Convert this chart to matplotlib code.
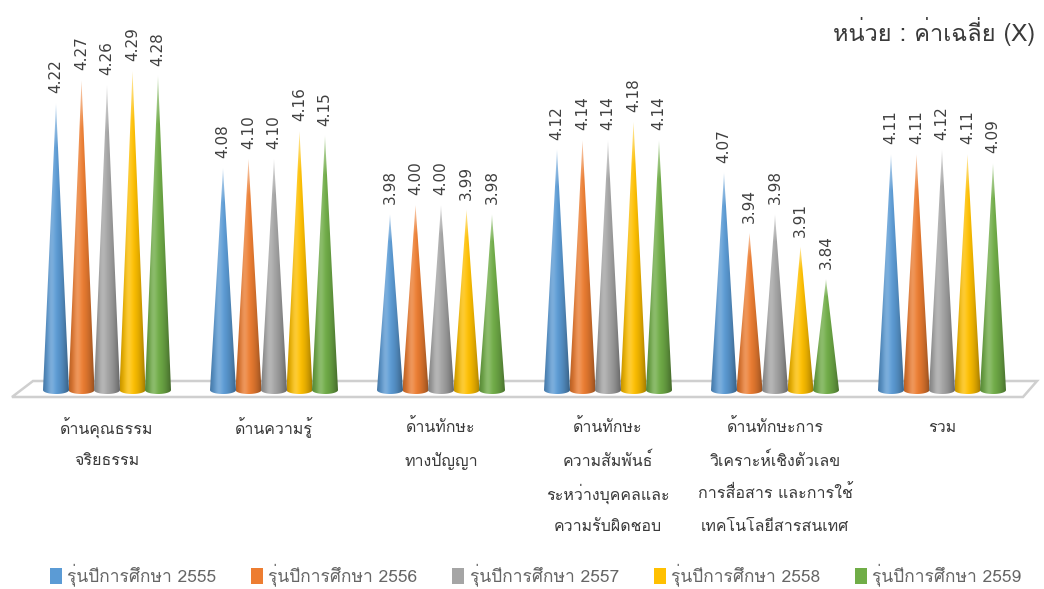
import numpy as np
import matplotlib
matplotlib.use("Agg")
import matplotlib.pyplot as plt
from matplotlib import font_manager
from matplotlib.ft2font import FT2Font
from matplotlib.patches import Polygon, Patch

categories = [
    "ด้านคุณธรรม\nจริยธรรม",
    "ด้านความรู้",
    "ด้านทักษะ\nทางปัญญา",
    "ด้านทักษะ\nความสัมพันธ์\nระหว่างบุคคลและ\nความรับผิดชอบ",
    "ด้านทักษะการ\nวิเคราะห์เชิงตัวเลข\nการสื่อสาร และการใช้\nเทคโนโลยีสารสนเทศ",
    "รวม",
]
series_names = ["รุ่นปีการศึกษา 2555", "รุ่นปีการศึกษา 2556", "รุ่นปีการศึกษา 2557",
                "รุ่นปีการศึกษา 2558", "รุ่นปีการศึกษา 2559"]
y2555 = [4.22, 4.08, 3.98, 4.12, 4.07, 4.11]
y2556 = [4.27, 4.10, 4.00, 4.14, 3.94, 4.11]
y2557 = [4.26, 4.10, 4.00, 4.14, 3.98, 4.12]
y2558 = [4.29, 4.16, 3.99, 4.18, 3.91, 4.11]
y2559 = [4.28, 4.15, 3.98, 4.14, 3.84, 4.09]
series = [y2555, y2556, y2557, y2558, y2559]
colors = ["#5B9BD5", "#ED7D31", "#A5A5A5", "#FFC000", "#70AD47"]
unit_label = "หน่วย : ค่าเฉลี่ย (X)"


def weight_num(w):
    if isinstance(w, (int, float)):
        return w
    return font_manager.weight_dict.get(w, 400)


def find_thai_font():
    # pick the lightest-normal installed font file that has Thai glyphs
    best = None
    for f in font_manager.fontManager.ttflist:
        try:
            ft = FT2Font(f.fname)
            if not (ft.get_char_index(0x0E01) and ft.get_char_index(0x0E49)):
                continue
        except Exception:
            continue
        if f.style != "normal":
            continue
        score = abs(weight_num(f.weight) - 380)
        if best is None or score < best[0]:
            best = (score, f.fname)
    return best[1] if best else None


thai_path = find_thai_font()
if thai_path:
    font_manager.fontManager.addfont(thai_path)
    tprop = font_manager.FontProperties(fname=thai_path)
else:
    tprop = font_manager.FontProperties(family="DejaVu Sans")

W, H = 1044, 589
fig = plt.figure(figsize=(W / 100, H / 100), dpi=100)
fig.patch.set_facecolor("white")

# axes covers pixel rows 0..400 from the top
ax = fig.add_axes([0, (H - 400) / H, 1, 400 / H])
ax.axis("off")

PX_UNIT = 462.0     # pixels per data unit
Y0 = 3.6            # baseline value
GX0, GDX = 107.0, 167.0   # group pixel positions


def px2x(px):
    return (px - GX0) / GDX


def py2y(py):
    return Y0 + (390 - py) / PX_UNIT


xlim = (px2x(0), px2x(W))
ylim = (py2y(400), py2y(0))

# floor slab
floor = Polygon([(px2x(12), py2y(397)), (px2x(1023), py2y(397)),
                 (px2x(1037), py2y(381)), (px2x(33), py2y(381))],
                closed=True, facecolor="white", edgecolor="#cfcfcf", lw=1.8, zorder=1)
ax.add_patch(floor)

hw = 13.0 / GDX          # cone half width
eh = 4.0 / PX_UNIT       # base ellipse half height
step = 25.5 / GDX


def cone_image(color, n=80, m=120):
    c = np.array(matplotlib.colors.to_rgb(color))
    u = np.linspace(-1, 1, n)
    lit = 1 - 0.30 * np.abs(u + 0.15) ** 1.8
    hi = 0.20 * np.exp(-((u + 0.35) / 0.3) ** 2)
    row = c[None, :] * lit[:, None] + (1 - c[None, :] * lit[:, None]) * hi[:, None]
    img = np.repeat(row[None, :, :], m, axis=0)
    t = np.linspace(0, 1, m)
    fade = np.clip((t - 0.85) / 0.15, 0, 1) * 0.6
    img = img * (1 - fade[:, None, None]) + fade[:, None, None]
    return np.clip(img, 0, 1)


for i in range(len(categories)):
    for j, vals in enumerate(series):
        v = vals[i]
        x = i + (j - 2) * step
        th = np.linspace(0, -np.pi, 40)
        pts = [(x, v)] + [(x + hw * np.cos(a), Y0 + eh * np.sin(a)) for a in th]
        poly = Polygon(pts, closed=True, facecolor="none", edgecolor="none")
        ax.add_patch(poly)
        im = ax.imshow(cone_image(colors[j]), extent=[x - hw, x + hw, Y0 - eh, v],
                       origin="lower", aspect="auto", zorder=3 + j * 0.01, interpolation="bilinear")
        im.set_clip_path(poly)
        ax.text(x, v + 0.022, f"{v:.2f}", rotation=90, ha="center", va="bottom",
                fontsize=11, color="#404040", family="DejaVu Sans", zorder=5)

ax.set_xlim(*xlim)
ax.set_ylim(*ylim)

# category labels, one line at a time
for i, lab in enumerate(categories):
    for k, line in enumerate(lab.split("\n")):
        fig.text((GX0 + GDX * i) / W, 1 - (428 + 33 * k) / H, line, ha="center", va="center",
                 fontproperties=tprop, fontsize=11.5, color="#3a3a3a")

fig.text(1035 / W, 1 - 32 / H, unit_label, ha="right", va="center",
         fontproperties=tprop, fontsize=17, color="#3a3a3a")

handles = [Patch(facecolor=c, edgecolor="none") for c in colors]
lprop = tprop.copy()
lprop.set_size(12.5)
fig.legend(handles, series_names, loc="center", bbox_to_anchor=(0.513, 1 - 575 / H), ncol=5,
           frameon=False, prop=lprop, handlelength=0.7, handleheight=1.0,
           handletextpad=0.3, columnspacing=2.0, labelcolor="#666666")

fig.savefig("out.png", dpi=100, facecolor="white")
